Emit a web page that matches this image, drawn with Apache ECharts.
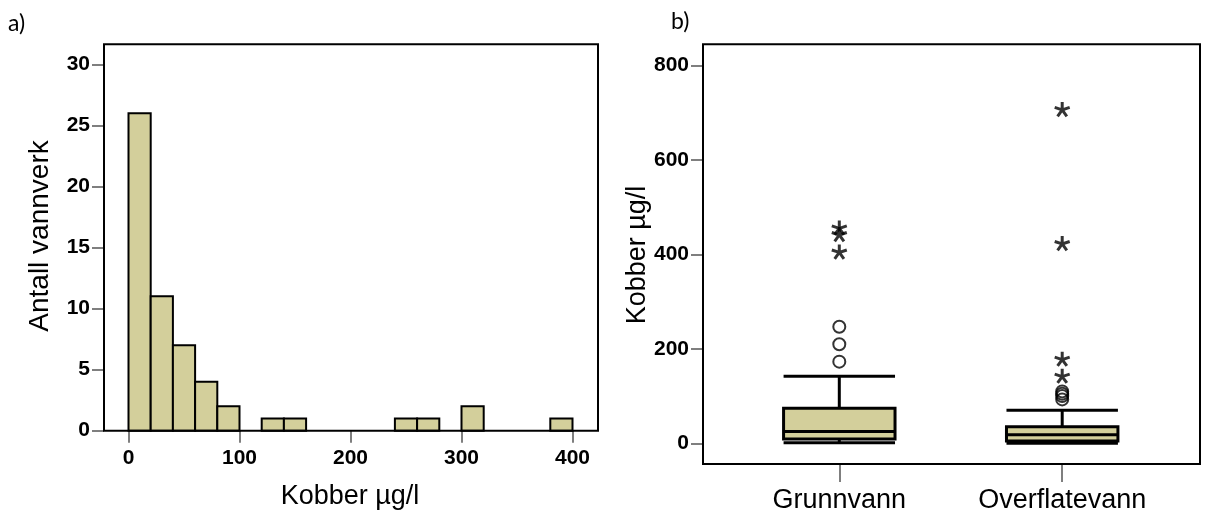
<!DOCTYPE html>
<html>
<head>
<meta charset="utf-8">
<script src="https://cdn.jsdelivr.net/npm/echarts@6/dist/echarts.min.js"></script>
<style>html,body{margin:0;padding:0;background:#fff}#c{width:1215px;height:518px}</style>
</head>
<body>
<div id="c"></div>
<script>
// ---- data ----
const binStart = [0, 20, 40, 60, 80, 120, 140, 240, 260, 300, 380];
const binCount = [26, 11, 7, 4, 2, 1, 1, 1, 1, 2, 1];
const binWidth = 20;
const histXTicks = [0, 100, 200, 300, 400];
const histYTicks = [0, 5, 10, 15, 20, 25, 30];

const categories = ['Grunnvann', 'Overflatevann'];
// [lower whisker, Q1, median, Q3, upper whisker]
const boxStats = [
  [1, 9, 25, 74, 142],
  [0, 5, 18, 35, 70]
];
const circleOutliers = [
  [173, 210, 247],
  [93, 100, 105, 110]
];
const starOutliers = [
  [406, 443, 457],
  [143, 179, 424, 708]
];
const boxYTicks = [0, 200, 400, 600, 800];

// ---- styles ----
const FILL = '#d3cf9b';
const FONT = "'Liberation Sans', Arial, sans-serif";
const STAR = 'path://M0,-1L0,0L0.951,-0.309M0,0L0.588,0.809M0,0L-0.588,0.809M0,0L-0.951,-0.309';

const histData = binStart.map((s, i) => [s, s + binWidth, binCount[i]]);
const boxData = boxStats.map((b, i) => [i].concat(b));
const circData = [];
circleOutliers.forEach((arr, i) => arr.forEach(v => circData.push([i, v])));
const starData = [];
starOutliers.forEach((arr, i) => arr.forEach(v => starData.push([i, v])));

const tickLabel = {color: '#000', fontWeight: 'bold', fontSize: 21, fontFamily: FONT};

const chart = echarts.init(document.getElementById('c'), null, {renderer: 'canvas'});
chart.setOption({
  animation: false,
  backgroundColor: '#fff',
  grid: [
    {left: 128.5, top: 64.3, width: 444, height: 366.4},
    {left: 727.85, top: 65.7, width: 445.8, height: 377.6}
  ],
  xAxis: [
    {
      type: 'value', gridIndex: 0, min: histXTicks[0], max: histXTicks[histXTicks.length - 1], interval: 100,
      axisLine: {show: false, onZero: false}, splitLine: {show: false},
      axisTick: {show: true, length: 12, lineStyle: {color: '#555', width: 1.5}},
      axisLabel: Object.assign({margin: 17}, tickLabel)
    },
    {
      type: 'category', gridIndex: 1, data: categories, offset: 20.7,
      axisLine: {show: false, onZero: false}, splitLine: {show: false},
      axisTick: {show: true, alignWithLabel: true, length: 18, lineStyle: {color: '#555', width: 1.5}},
      axisLabel: {margin: 23, color: '#000', fontSize: 27, fontFamily: FONT}
    }
  ],
  yAxis: [
    {
      type: 'value', gridIndex: 0, min: histYTicks[0], max: histYTicks[histYTicks.length - 1], interval: 5, offset: 24.5,
      axisLine: {show: false, onZero: false}, splitLine: {show: false},
      axisTick: {show: true, length: 12, lineStyle: {color: '#555', width: 1.5}},
      axisLabel: Object.assign({margin: 14}, tickLabel)
    },
    {
      type: 'value', gridIndex: 1, min: boxYTicks[0], max: boxYTicks[boxYTicks.length - 1], interval: 200, offset: 24.85,
      axisLine: {show: false, onZero: false}, splitLine: {show: false},
      axisTick: {show: true, length: 12, lineStyle: {color: '#555', width: 1.5}},
      axisLabel: Object.assign({margin: 14}, tickLabel)
    }
  ],
  graphic: [
    {type: 'rect', shape: {x: 104, y: 44.3, width: 494, height: 386.4}, style: {fill: 'none', stroke: '#000', lineWidth: 2}, z: 100},
    {type: 'rect', shape: {x: 703, y: 44.3, width: 497, height: 419.7}, style: {fill: 'none', stroke: '#000', lineWidth: 2}, z: 100},
    {type: 'text', x: 8, y: 24, style: {text: 'a)', font: "23px Lato, 'Open Sans', sans-serif", fill: '#000', textVerticalAlign: 'middle'}},
    {type: 'text', x: 671, y: 22, style: {text: 'b)', font: "23px Lato, 'Open Sans', sans-serif", fill: '#000', textVerticalAlign: 'middle'}},
    {type: 'text', x: 40, y: 236, rotation: Math.PI / 2, style: {text: 'Antall vannverk', font: "28px 'Liberation Sans', Arial, sans-serif", fill: '#000', textAlign: 'center', textVerticalAlign: 'middle'}},
    {type: 'text', x: 350, y: 497, style: {text: 'Kobber µg/l', font: "27px 'Liberation Sans', Arial, sans-serif", fill: '#000', textAlign: 'center', textVerticalAlign: 'middle'}},
    {type: 'text', x: 638, y: 255, rotation: Math.PI / 2, style: {text: 'Kobber µg/l', font: "27px 'Liberation Sans', Arial, sans-serif", fill: '#000', textAlign: 'center', textVerticalAlign: 'middle'}}
  ],
  series: [
    {
      type: 'custom', xAxisIndex: 0, yAxisIndex: 0, data: histData,
      encode: {x: [0, 1], y: 2},
      renderItem: function (params, api) {
        const p0 = api.coord([api.value(0), api.value(2)]);
        const p1 = api.coord([api.value(1), 0]);
        return {type: 'rect', shape: {x: p0[0], y: p0[1], width: p1[0] - p0[0], height: p1[1] - p0[1]},
          style: {fill: FILL, stroke: '#000', lineWidth: 2}};
      }
    },
    {
      type: 'custom', xAxisIndex: 1, yAxisIndex: 1, data: boxData,
      encode: {x: 0, y: [1, 2, 3, 4, 5]},
      renderItem: function (params, api) {
        const c = api.value(0);
        const band = api.size([1, 0])[0];
        const bw = band * 0.5, cw = band * 0.25;
        const pMin = api.coord([c, api.value(1)]);
        const pQ1 = api.coord([c, api.value(2)]);
        const pMed = api.coord([c, api.value(3)]);
        const pQ3 = api.coord([c, api.value(4)]);
        const pMax = api.coord([c, api.value(5)]);
        const x = pMin[0];
        const ls = {stroke: '#000', lineWidth: 3};
        return {type: 'group', children: [
          {type: 'line', shape: {x1: x, y1: pQ3[1], x2: x, y2: pMax[1]}, style: ls},
          {type: 'line', shape: {x1: x, y1: pQ1[1], x2: x, y2: pMin[1]}, style: ls},
          {type: 'line', shape: {x1: x - cw, y1: pMax[1], x2: x + cw, y2: pMax[1]}, style: ls},
          {type: 'line', shape: {x1: x - cw, y1: pMin[1], x2: x + cw, y2: pMin[1]}, style: ls},
          {type: 'rect', shape: {x: x - bw / 2, y: pQ3[1], width: bw, height: pQ1[1] - pQ3[1]}, style: {fill: FILL, stroke: '#000', lineWidth: 3}},
          {type: 'line', shape: {x1: x - bw / 2, y1: pMed[1], x2: x + bw / 2, y2: pMed[1]}, style: ls}
        ]};
      }
    },
    {
      type: 'scatter', xAxisIndex: 1, yAxisIndex: 1, data: circData,
      symbol: 'circle', symbolSize: 12,
      itemStyle: {color: 'rgba(255,255,255,0)', borderColor: '#000', borderWidth: 2}
    },
    {
      type: 'scatter', xAxisIndex: 1, yAxisIndex: 1, data: starData,
      symbol: STAR, symbolSize: 15, symbolKeepAspect: true,
      itemStyle: {color: 'rgba(0,0,0,0)', borderColor: '#000', borderWidth: 3}
    }
  ]
});
</script>
</body>
</html>
